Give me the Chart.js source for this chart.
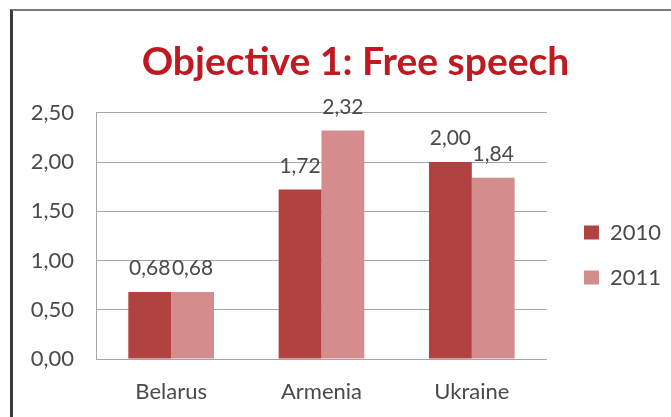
<!DOCTYPE html>
<html>
<head>
<meta charset="utf-8">
<script src="https://cdn.jsdelivr.net/npm/chart.js@4.4.0/dist/chart.umd.min.js"></script>
<style>
  html, body { margin: 0; padding: 0; background: #fff; }
  #wrap { position: relative; width: 671px; height: 417px; overflow: hidden; }
  #frame { position: absolute; left: 10px; top: 9px; width: 700px; height: 500px;
           border-left: 3px solid #3a3a3a; border-top: 2px solid #7a7a7a; }
  canvas { position: absolute; left: 0; top: 0; }
</style>
</head>
<body>
<div id="wrap">
  <canvas id="barChart" width="671" height="417"></canvas>
  <div id="frame"></div>
</div>
<script>
// donnees du graphique
var categories = ['Belarus', 'Armenia', 'Ukraine'];
var values2010 = [0.68, 1.72, 2.00];
var values2011 = [0.68, 2.32, 1.84];
var yTicks = [0, 0.5, 1, 1.5, 2, 2.5];

var textColor = '#4a4a4a';
var fontFamily = 'Lato, "Open Sans", sans-serif';

function fmt(v) {
  return v.toFixed(2).replace('.', ',');
}

// etiquettes de valeurs au-dessus des barres
var valueLabels = {
  id: 'valueLabels',
  afterDatasetsDraw: function (chart) {
    var ctx = chart.ctx;
    ctx.save();
    ctx.font = '21px ' + fontFamily;
    ctx.fillStyle = textColor;
    ctx.textAlign = 'center';
    ctx.textBaseline = 'alphabetic';
    chart.data.datasets.forEach(function (ds, i) {
      chart.getDatasetMeta(i).data.forEach(function (bar, j) {
        ctx.fillText(fmt(ds.data[j]), bar.x, bar.y - 17);
      });
    });
    ctx.restore();
  }
};

// decale la legende et le titre
var layoutShift = {
  id: 'layoutShift',
  afterLayout: function (chart) {
    var lg = chart.legend;
    lg.left += 14; lg.right += 14;
    lg.top += 33; lg.bottom += 33;
    var tb = chart.titleBlock;
    if (tb) { tb.left += 15; tb.right += 15; }
  }
};

var barData = {
  labels: categories,
  datasets: [{
    label: '2010',
    data: values2010,
    backgroundColor: '#b04241',
    borderWidth: 0
  }, {
    label: '2011',
    data: values2011,
    backgroundColor: '#d48c8c',
    borderWidth: 0
  }]
};

var barOptions = {
  responsive: false,
  animation: false,
  layout: { padding: { left: 24, right: 14, top: 39, bottom: 12 } },
  datasets: {
    bar: { categoryPercentage: 0.57, barPercentage: 1 }
  },
  plugins: {
    title: {
      display: true,
      text: 'Objective 1: Free speech',
      color: '#bf1a22',
      font: { family: fontFamily, size: 39, weight: 'bold' },
      padding: { top: 0, bottom: 27 }
    },
    legend: {
      position: 'right',
      labels: {
        boxWidth: 15,
        boxHeight: 14,
        padding: 23,
        color: textColor,
        font: { family: fontFamily, size: 22 }
      }
    },
    tooltip: { enabled: false }
  },
  scales: {
    x: {
      afterFit: function (scale) { scale.height = 46; },
      grid: { display: false },
      border: { color: '#a6a6a6' },
      ticks: { color: textColor, padding: 12, font: { family: fontFamily, size: 22 } }
    },
    y: {
      min: 0,
      max: 2.5,
      afterBuildTicks: function (scale) {
        scale.ticks = yTicks.map(function (v) { return { value: v }; });
      },
      afterFit: function (scale) { scale.width = 72; },
      grid: { color: '#a6a6a6', drawTicks: false },
      border: { color: '#a6a6a6' },
      ticks: {
        color: textColor,
        padding: 22,
        font: { family: fontFamily, size: 22 },
        callback: function (v) { return fmt(v); }
      }
    }
  }
};

var barChart = new Chart(document.getElementById('barChart').getContext('2d'), {
  type: 'bar',
  data: barData,
  options: barOptions,
  plugins: [valueLabels, layoutShift]
});
</script>
</body>
</html>
